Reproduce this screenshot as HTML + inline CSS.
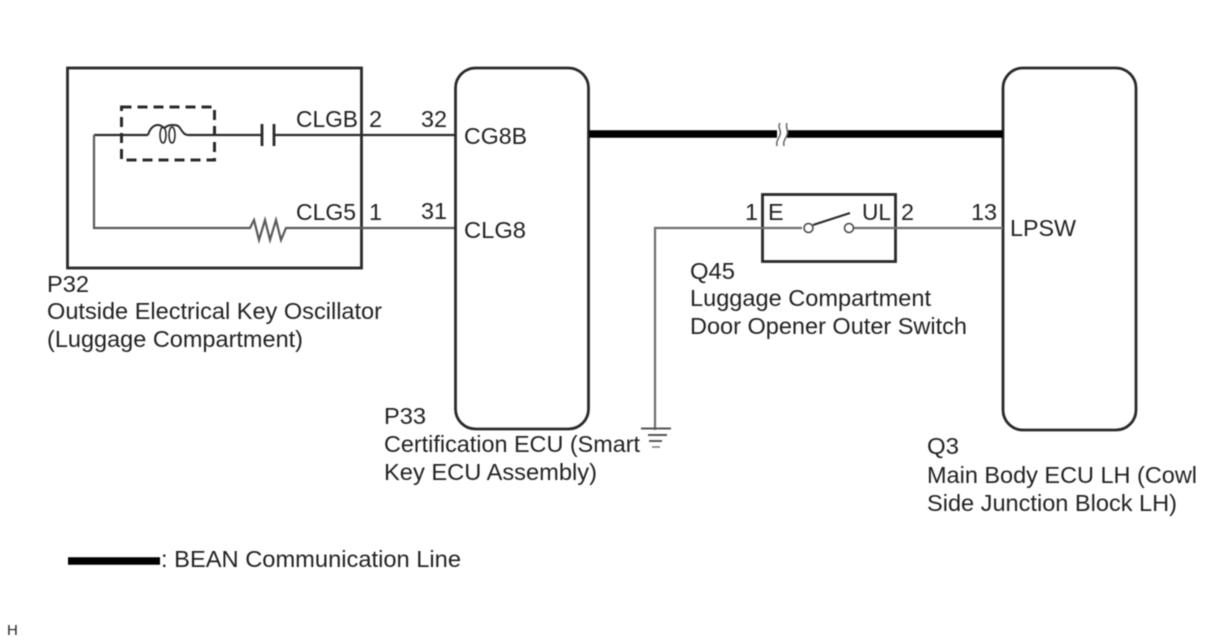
<!DOCTYPE html>
<html>
<head>
<meta charset="utf-8">
<style>
html,body{margin:0;padding:0;background:#fff;}
svg{display:block;filter:blur(0.4px);}
text{font-family:"Liberation Sans",sans-serif;font-size:23.4px;fill:#222;}
</style>
</head>
<body>
<svg width="1208" height="644" viewBox="0 0 1208 644" xmlns="http://www.w3.org/2000/svg">
<rect width="1208" height="644" fill="#fff"/>
<g fill="none" stroke="#2a2a2a" stroke-width="2">
<!-- P32 box -->
<rect x="67.5" y="68" width="294" height="200" stroke-width="2.8"/>
<!-- dashed -->
<rect x="121.5" y="107" width="93" height="53" stroke-dasharray="10 6" stroke-width="3"/>
<!-- top wire -->
<path d="M94 135H148M188 135H262M274 135H456" stroke-width="2.2"/>
<path d="M148 135C150 128 154 125 158 125C162 125 163 128 164 128C165 128 167 125 172 125C176 125 178 125 180 128C182 131 184 135 188 135" stroke-width="2"/>
<ellipse cx="163" cy="135" rx="3" ry="8" stroke-width="1.6"/>
<ellipse cx="172" cy="135" rx="3" ry="8" stroke-width="1.6"/>
<path d="M262 124V146M274 124V146" stroke-width="2.8"/>
<!-- loop + resistor wire -->
<path d="M94 135V228H250L254 220L259 240L265 220L270 240L276 220L281 240L286 228H456" stroke="#5a5a5a" stroke-width="2.2"/>
<!-- ECU boxes -->
<rect x="455.5" y="68" width="133" height="361" rx="20" ry="20" stroke-width="2.8"/>
<rect x="1003" y="68" width="133" height="362" rx="20" ry="20" stroke-width="2.8"/>
<!-- thick line -->
<path d="M589 134H777M787 134H1003" stroke="#000" stroke-width="7.500"/>
<path d="M780 123C777 128 782 130 780 135C778 140 776 141 777 146M787 123C785 128 789 130 787 135C785 140 783 141 784 146" stroke="#666" stroke-width="1.5"/>
<!-- switch box -->
<rect x="762.5" y="194.5" width="133" height="67" stroke-width="2.8"/>
<path d="M655 430V228H802M854 228H1003" stroke="#707070" stroke-width="2.200"/>
<circle cx="808.5" cy="228" r="4.5" fill="#fff" stroke="#444" stroke-width="1.5"/>
<circle cx="849" cy="228" r="4.5" fill="#fff" stroke="#444" stroke-width="1.5"/>
<path d="M813 225L850 213" stroke-width="2.200"/>
<!-- ground -->
<path d="M641 428.500H671" stroke="#555" stroke-width="2"/>
<path d="M648 435H667" stroke="#555" stroke-width="2"/>
<path d="M649 441H662" stroke="#555" stroke-width="2"/>
<path d="M652 447H660" stroke="#777" stroke-width="1.500"/>
<!-- legend -->
<path d="M68 561H160" stroke="#000" stroke-width="7.500"/>
</g>
<text x="296" y="127" textLength="62" lengthAdjust="spacingAndGlyphs">CLGB</text>
<text x="369" y="127">2</text>
<text x="421" y="127" textLength="26" lengthAdjust="spacingAndGlyphs">32</text>
<text x="464" y="144" textLength="63" lengthAdjust="spacingAndGlyphs">CG8B</text>
<text x="296" y="220" textLength="60" lengthAdjust="spacingAndGlyphs">CLG5</text>
<text x="369" y="220">1</text>
<text x="421" y="219" textLength="26" lengthAdjust="spacingAndGlyphs">31</text>
<text x="464" y="238" textLength="62" lengthAdjust="spacingAndGlyphs">CLG8</text>
<text x="745" y="220">1</text>
<text x="768" y="220">E</text>
<text x="862" y="220" textLength="29" lengthAdjust="spacingAndGlyphs">UL</text>
<text x="901" y="220">2</text>
<text x="971" y="220" textLength="26" lengthAdjust="spacingAndGlyphs">13</text>
<text x="1010" y="236" textLength="66" lengthAdjust="spacingAndGlyphs">LPSW</text>
<text x="47" y="292" textLength="42" lengthAdjust="spacingAndGlyphs">P32</text>
<text x="47" y="319" textLength="335" lengthAdjust="spacingAndGlyphs">Outside Electrical Key Oscillator</text>
<text x="47" y="347" textLength="256" lengthAdjust="spacingAndGlyphs">(Luggage Compartment)</text>
<text x="384" y="424" textLength="42" lengthAdjust="spacingAndGlyphs">P33</text>
<text x="384" y="452" textLength="256" lengthAdjust="spacingAndGlyphs">Certification ECU (Smart</text>
<text x="384" y="480" textLength="213" lengthAdjust="spacingAndGlyphs">Key ECU Assembly)</text>
<text x="690" y="279" textLength="45" lengthAdjust="spacingAndGlyphs">Q45</text>
<text x="690" y="306" textLength="241" lengthAdjust="spacingAndGlyphs">Luggage Compartment</text>
<text x="690" y="334" textLength="277" lengthAdjust="spacingAndGlyphs">Door Opener Outer Switch</text>
<text x="927" y="454" textLength="32" lengthAdjust="spacingAndGlyphs">Q3</text>
<text x="927" y="483" textLength="270" lengthAdjust="spacingAndGlyphs">Main Body ECU LH (Cowl</text>
<text x="927" y="511" textLength="250" lengthAdjust="spacingAndGlyphs">Side Junction Block LH)</text>
<text x="161" y="567" textLength="300" lengthAdjust="spacingAndGlyphs">: BEAN Communication Line</text>
<text x="7" y="635" style="font-size:15px">H</text>
</svg>
</body>
</html>
